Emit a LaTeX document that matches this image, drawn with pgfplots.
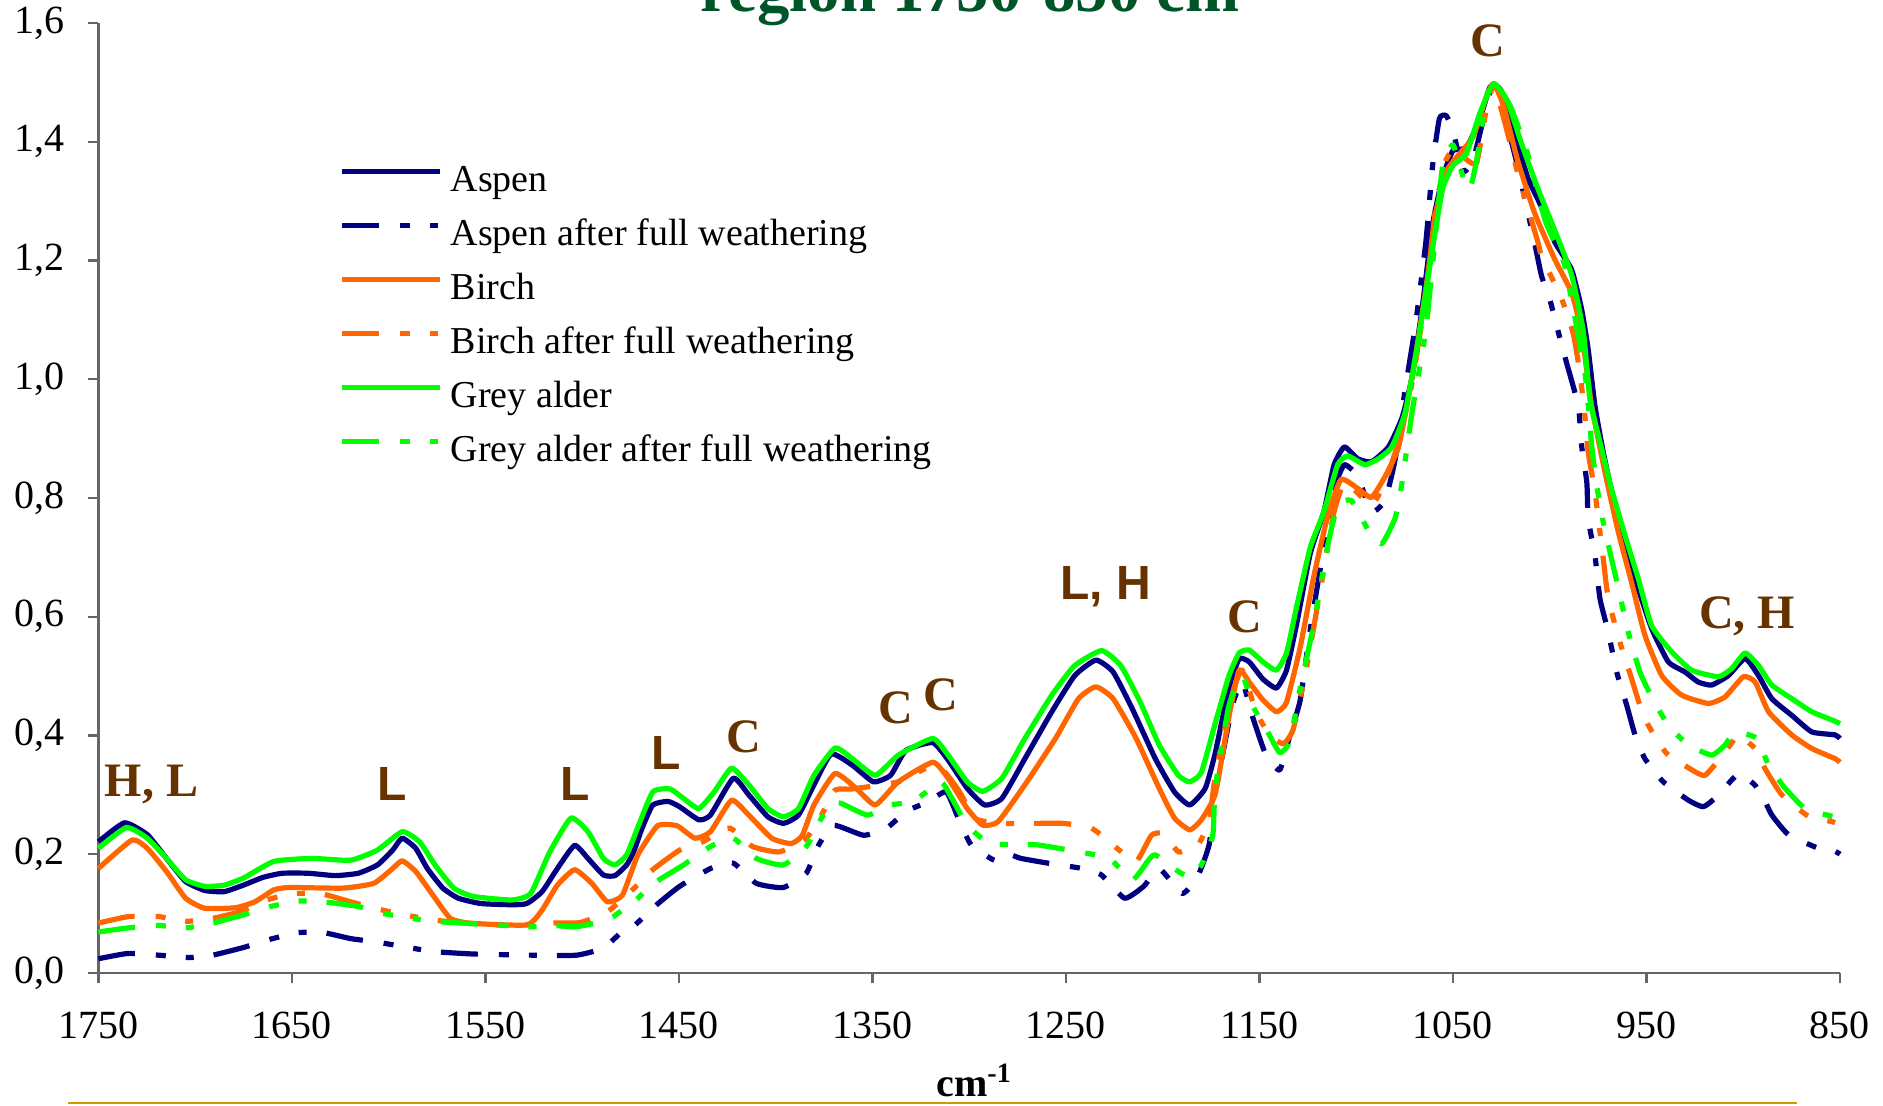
\documentclass[border=0pt]{standalone}
\usepackage{fontspec}
\setmainfont{Liberation Serif}
\newfontfamily\sansf{Liberation Sans}
\usepackage{pgfplots}
\pgfplotsset{compat=1.18}
\definecolor{aspen}{RGB}{0,0,128}
\definecolor{birch}{RGB}{255,102,0}
\definecolor{alder}{RGB}{0,255,0}
\definecolor{anno}{RGB}{102,51,0}
\definecolor{ttl}{RGB}{0,85,40}
\definecolor{gold}{RGB}{205,155,0}
\tikzset{weath/.style={dash pattern=on 9.25pt off 5.25pt on 2.5pt off 5pt on 2pt off 5pt}}
\newcommand{\ann}[1]{\fontsize{12}{14}\selectfont\bfseries #1}
\newcommand{\anns}[1]{\fontsize{12}{14}\selectfont\sansf\bfseries #1}

\begin{document}
\begin{tikzpicture}
\begin{axis}[
    at={(24.6pt,33pt)}, anchor=south west,
    scale only axis, width=435.4pt, height=237.5pt,
    xmin=850, xmax=1750, x dir=reverse,
    ymin=0, ymax=1.6,
    xtick={850,950,...,1750},
    ytick={0,0.2,...,1.6},
    axis x line*=bottom, axis y line*=left,
    axis line style={-, black!60, line width=0.6pt},
    tick align=outside,
    major tick length=2.5pt,
    tick style={black!60, line width=0.6pt},
    /pgf/number format/assume math mode=true,
    tick label style={font=\fontsize{10}{12}\selectfont},
    xticklabel style={yshift=-3.6pt, /pgf/number format/set thousands separator={}},
    yticklabel style={xshift=-2.5pt, /pgf/number format/.cd, fixed, fixed zerofill, precision=1, use comma},
    legend style={at={(axis description cs:0.1380,0.8526)}, anchor=north west,
      draw=none, fill=none, inner sep=0pt, row sep=4.5pt, column sep=2pt,
      font=\fontsize{9.5}{11}\selectfont,
      nodes={inner sep=0pt, text height=7pt, text depth=2pt}},
    legend cell align=left,
    legend image code/.code={\draw[#1] (0pt,2.6pt) -- (24.5pt,2.6pt);},
    clip=false,
    every axis plot/.append style={line width=1.3pt, line join=round, smooth, tension=0.3},
]
\addplot[aspen] table {
1750 0.221
1736.5 0.253
1724.7 0.233
1714.8 0.193
1704.9 0.154
1695 0.139
1685 0.137
1675 0.148
1665 0.161
1655 0.168
1641.5 0.168
1627.6 0.164
1615.7 0.168
1605.8 0.182
1597.9 0.207
1593 0.227
1586 0.210
1580 0.176
1572 0.143
1564 0.126
1552.4 0.117
1536.5 0.115
1528.6 0.117
1520.7 0.137
1512.8 0.176
1503.9 0.215
1497 0.193
1489 0.165
1483 0.164
1477 0.182
1473.4 0.204
1469 0.244
1463.5 0.283
1455.6 0.289
1449.6 0.280
1439.7 0.258
1433.7 0.266
1421.9 0.328
1413.9 0.300
1404 0.263
1396 0.252
1388.2 0.266
1380.2 0.317
1371.3 0.369
1360.4 0.350
1349.5 0.322
1340.6 0.333
1332.7 0.375
1318.8 0.388
1310.9 0.359
1301 0.311
1292 0.283
1283.1 0.294
1271.2 0.361
1257.3 0.440
1245.4 0.501
1234.5 0.527
1225.6 0.507
1215.7 0.445
1203.8 0.361
1193.9 0.305
1186 0.283
1178 0.311
1172.8 0.371
1165.8 0.480
1160.5 0.529
1155.3 0.524
1148.2 0.495
1141.2 0.480
1136 0.510
1130.7 0.589
1123.7 0.707
1116.7 0.777
1111.4 0.856
1106.1 0.886
1099.1 0.866
1092.1 0.861
1083.3 0.886
1076.3 0.935
1071.1 1.004
1065.8 1.123
1060.5 1.261
1055.3 1.340
1050 1.385
1043 1.390
1036 1.439
1030.7 1.493
1025.4 1.488
1018.4 1.419
1011.4 1.340
1004.4 1.291
997.4 1.231
988.7 1.185
983.5 1.118
980.1 1.050
976.6 0.955
972.3 0.877
967.1 0.798
961.1 0.726
954.2 0.647
947.3 0.580
938.7 0.524
930.1 0.507
923.2 0.490
916.3 0.485
907.6 0.501
899 0.530
892.1 0.501
885.2 0.462
874.9 0.434
864.5 0.406
852.5 0.401
850 0.395
};
\addlegendentry{Aspen}
\addplot[aspen, weath] table {
1750 0.024
1734.6 0.033
1718.7 0.030
1702.9 0.026
1691 0.030
1675 0.043
1661 0.057
1647 0.068
1633.6 0.068
1619.7 0.058
1605.8 0.052
1590 0.043
1576 0.036
1556.3 0.032
1524.6 0.030
1502.9 0.030
1489 0.042
1479.3 0.070
1473 0.080
1461.5 0.115
1449.6 0.146
1433.7 0.176
1421.9 0.185
1410 0.151
1396 0.144
1384.2 0.168
1378.2 0.213
1370.3 0.249
1354.5 0.232
1342.6 0.244
1332.7 0.272
1320.8 0.289
1311.8 0.305
1304.9 0.255
1299 0.216
1287 0.190
1279.1 0.199
1273.2 0.193
1259.3 0.185
1241.5 0.176
1231.6 0.165
1219.7 0.126
1209.8 0.146
1201.8 0.176
1189.9 0.134
1182 0.162
1176 0.216
1172.8 0.302
1164 0.450
1158.8 0.490
1153.5 0.431
1146.5 0.366
1139.5 0.342
1134.2 0.401
1128.9 0.460
1123.7 0.579
1116.7 0.717
1111.4 0.816
1106.1 0.856
1099.1 0.836
1092.1 0.777
1085.1 0.796
1079.8 0.866
1074.6 0.985
1069.3 1.093
1064 1.231
1060.5 1.360
1057 1.439
1053.5 1.444
1050 1.419
1044.7 1.350
1039.5 1.370
1034.2 1.439
1029.8 1.493
1023.7 1.449
1016.7 1.360
1007.9 1.231
1004.2 1.174
999.9 1.134
996.4 1.090
991.3 1.028
985.2 0.955
983.5 0.888
980.8 0.826
980.1 0.765
976.6 0.703
974 0.630
969.7 0.574
965.4 0.507
960.2 0.451
955.9 0.401
950.8 0.361
941.3 0.322
928.3 0.291
920.6 0.280
913.7 0.297
905.1 0.328
901.6 0.336
893.8 0.316
888.7 0.289
885.2 0.266
876.6 0.233
861.1 0.210
852.5 0.205
850 0.200
};
\addlegendentry{Aspen after full weathering}
\addplot[birch] table {
1750 0.176
1732.6 0.224
1724.7 0.210
1714.8 0.171
1704.9 0.126
1695 0.109
1679 0.110
1669.1 0.120
1659.3 0.140
1651.3 0.144
1623.6 0.143
1607.7 0.151
1597.9 0.176
1593 0.189
1586 0.171
1576 0.126
1568.1 0.092
1558.2 0.084
1528.6 0.081
1520.7 0.106
1512.8 0.148
1503.9 0.174
1495 0.151
1487 0.120
1479.2 0.131
1471.2 0.199
1461 0.248
1451 0.248
1441.7 0.227
1433.7 0.238
1422.8 0.291
1413.9 0.266
1402 0.227
1392 0.218
1386.2 0.232
1380.2 0.283
1369.3 0.336
1358.4 0.311
1348.5 0.283
1336.6 0.322
1318.8 0.355
1310.9 0.328
1301 0.277
1293 0.249
1285 0.255
1271.2 0.317
1255.4 0.395
1243.5 0.462
1234.5 0.482
1225.6 0.462
1213.7 0.395
1201.8 0.311
1193.9 0.261
1186 0.241
1180 0.258
1172.8 0.302
1165.8 0.431
1160.5 0.510
1155.3 0.490
1148.2 0.460
1141.2 0.440
1136 0.456
1128.9 0.549
1121.9 0.668
1114.9 0.767
1107.9 0.831
1099.1 0.816
1092.1 0.801
1085.1 0.836
1078.1 0.886
1071.1 1.004
1064 1.152
1058.8 1.281
1053.5 1.350
1046.5 1.380
1039.5 1.409
1032.5 1.478
1028.9 1.498
1023.7 1.459
1016.7 1.370
1007.9 1.281
997.4 1.202
988.7 1.146
983.5 1.078
978.3 0.955
971.4 0.843
964.5 0.742
957.7 0.658
950.8 0.569
942.1 0.501
931.8 0.468
918 0.454
909.4 0.465
899.9 0.499
893.8 0.490
886.9 0.440
874.9 0.401
864.5 0.378
852.5 0.361
850 0.355
};
\addlegendentry{Birch}
\addplot[birch, weath] table {
1750 0.084
1734.6 0.095
1718.7 0.095
1704.9 0.087
1691 0.092
1677 0.103
1665 0.121
1651 0.133
1635.6 0.134
1619.7 0.120
1605.8 0.108
1592 0.098
1576 0.089
1560 0.084
1536.5 0.080
1516.7 0.084
1501 0.085
1487 0.103
1475 0.137
1463.5 0.174
1449.6 0.207
1437.7 0.221
1423.8 0.244
1411.9 0.213
1398 0.204
1384.2 0.227
1376.3 0.266
1369.3 0.308
1360.4 0.310
1336.6 0.322
1320.8 0.347
1312.8 0.339
1304.9 0.305
1297 0.260
1283.1 0.252
1265.3 0.252
1251.4 0.252
1237.5 0.245
1229.6 0.227
1223.6 0.210
1213.7 0.188
1205.8 0.232
1199.9 0.235
1191.9 0.204
1186 0.210
1181.6 0.216
1176 0.255
1172.8 0.332
1164 0.470
1158.8 0.510
1151.8 0.440
1144.7 0.401
1137.7 0.386
1132.5 0.411
1125.4 0.519
1118.4 0.648
1111.4 0.777
1106.1 0.826
1099.1 0.808
1092.1 0.787
1085.1 0.826
1078.1 0.895
1071.1 0.994
1064 1.143
1058.8 1.291
1053.5 1.370
1048.2 1.390
1043 1.370
1037.7 1.365
1032.5 1.459
1028.9 1.493
1023.7 1.439
1016.7 1.350
1006.1 1.231
1004.2 1.207
994 1.137
987.9 1.078
984.4 1.011
981.8 0.938
980.1 0.877
976.6 0.810
972.3 0.697
969.7 0.630
963.7 0.557
957.7 0.496
953.4 0.451
949 0.417
939.6 0.370
924.9 0.339
919.7 0.333
912.8 0.358
904.2 0.395
902.5 0.401
893.8 0.378
888.7 0.344
880 0.300
866.3 0.264
854.2 0.255
850 0.250
};
\addlegendentry{Birch after full weathering}
\addplot[alder] table {
1750 0.210
1735.5 0.245
1724.7 0.227
1714.8 0.193
1704.9 0.157
1695 0.146
1685 0.148
1675 0.160
1659.3 0.188
1639.5 0.193
1619.7 0.190
1605.8 0.207
1593 0.238
1584 0.221
1576 0.182
1566.3 0.143
1556.3 0.129
1536.5 0.123
1526.6 0.134
1516.7 0.204
1505.8 0.261
1497 0.238
1489 0.193
1483 0.182
1477 0.199
1471.4 0.244
1463.5 0.305
1454.6 0.310
1447.6 0.294
1439.7 0.277
1431.8 0.305
1422.8 0.345
1413.9 0.317
1404 0.277
1396 0.263
1388.2 0.277
1380.2 0.333
1369.3 0.379
1360.4 0.361
1348.5 0.333
1336.6 0.367
1318.8 0.395
1310.9 0.367
1301 0.322
1293 0.306
1283.1 0.328
1271.2 0.395
1257.3 0.468
1245.4 0.518
1231.6 0.543
1221.7 0.518
1211.7 0.457
1201.8 0.384
1191.9 0.333
1186 0.322
1180 0.338
1172.8 0.421
1165.8 0.500
1160.5 0.539
1155.3 0.544
1148.2 0.524
1141.2 0.510
1136 0.539
1130.7 0.618
1123.7 0.717
1116.7 0.777
1109.6 0.856
1104.4 0.871
1095.6 0.856
1088.6 0.866
1081.6 0.886
1074.6 0.945
1067.5 1.073
1060.5 1.221
1055.3 1.321
1050 1.360
1043 1.380
1036 1.449
1028.9 1.498
1021.9 1.469
1014.9 1.400
1006.1 1.321
997.4 1.251
988.6 1.175
982.6 1.080
979.2 0.966
974 0.894
968 0.815
961.1 0.737
954.2 0.664
947.3 0.585
937 0.541
926.6 0.510
912.8 0.499
905.9 0.513
899 0.539
892.1 0.518
885.2 0.485
874.9 0.462
864.5 0.440
852.5 0.424
850 0.420
};
\addlegendentry{Grey alder}
\addplot[alder, weath] table {
1750 0.069
1734.6 0.076
1718.7 0.080
1704.9 0.076
1691 0.084
1675 0.098
1661 0.112
1647 0.121
1633.6 0.120
1615.7 0.112
1603.9 0.101
1590 0.093
1576 0.087
1556.3 0.083
1526.6 0.078
1514.8 0.080
1502.9 0.078
1487 0.089
1479.3 0.106
1473 0.120
1463.5 0.150
1447.6 0.182
1433.7 0.213
1421.9 0.227
1410 0.193
1396 0.182
1384.2 0.213
1376.3 0.261
1371.3 0.283
1366.4 0.286
1352.5 0.266
1340.6 0.283
1328.7 0.289
1314.8 0.322
1308.9 0.294
1301 0.249
1289 0.218
1265.3 0.216
1243.5 0.204
1227.6 0.193
1215.7 0.157
1207.8 0.188
1203.8 0.199
1191.9 0.171
1186 0.162
1180 0.182
1174.1 0.232
1172.8 0.312
1165.8 0.450
1158.8 0.500
1153.5 0.450
1146.5 0.411
1139.5 0.371
1134.2 0.391
1128.9 0.480
1121.9 0.588
1114.9 0.717
1109.6 0.787
1102.6 0.796
1093.9 0.747
1086.8 0.723
1079.8 0.767
1076.3 0.826
1071.1 0.945
1064 1.083
1058.8 1.251
1055.3 1.360
1050 1.395
1044.7 1.340
1041.2 1.320
1037.7 1.370
1032.5 1.478
1027.2 1.493
1020.2 1.459
1011.4 1.380
1002.5 1.269
997.3 1.230
992.1 1.190
981.8 1.011
978.3 0.888
975.7 0.821
972.3 0.759
968 0.697
963.7 0.636
959.4 0.574
953.4 0.507
947.3 0.465
938.7 0.417
928.3 0.384
916.3 0.367
909.4 0.384
904.2 0.406
892.9 0.395
886.9 0.350
878.3 0.311
868 0.277
854.2 0.264
850 0.260
};
\addlegendentry{Grey alder after full weathering}
\node[anno] at (axis cs:1722.6,0.318) {\ann{H, L}};
\node[anno] at (axis cs:1598,0.318) {\anns{L}};
\node[anno] at (axis cs:1503.4,0.318) {\anns{L}};
\node[anno] at (axis cs:1456.7,0.371) {\anns{L}};
\node[anno] at (axis cs:1416.2,0.398) {\ann{C}};
\node[anno] at (axis cs:1337.7,0.446) {\ann{C}};
\node[anno] at (axis cs:1314.6,0.469) {\ann{C}};
\node[anno] at (axis cs:1229.3,0.651) {\anns{L, H}};
\node[anno] at (axis cs:1157.7,0.600) {\ann{C}};
\node[anno] at (axis cs:1031.9,1.570) {\ann{C}};
\node[anno] at (axis cs:898,0.600) {\ann{C, H}};
\end{axis}
\node[anchor=base west, text=ttl, inner sep=0pt, font=\fontsize{16.2}{19}\selectfont\bfseries]
  at (175pt,273.25pt) {region 1750-850 cm\textsuperscript{-1}};
\node[anchor=base west, inner sep=0pt, font=\fontsize{10}{12}\selectfont\bfseries]
  at (233.9pt,2.1pt) {cm\textsuperscript{-1}};
\draw[gold, line width=0.6pt] (17pt,0.45pt) -- (449.25pt,0.45pt);
\pgfresetboundingbox
\useasboundingbox (0,0) rectangle (470.75pt,276.25pt);
\end{tikzpicture}
\end{document}
